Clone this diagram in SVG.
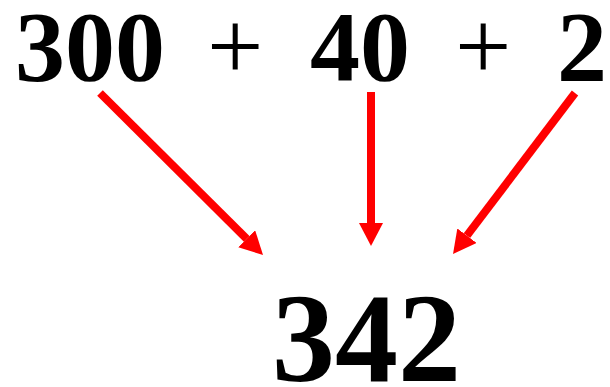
<svg xmlns="http://www.w3.org/2000/svg" width="610" height="387" viewBox="0 0 610 387">
<style>
.t{font-family:"Liberation Serif","Times New Roman",serif;font-weight:bold;fill:#000}
.p{font-family:"Liberation Serif","Times New Roman",serif;fill:#000}
.a{stroke:#ff0000;stroke-width:8;fill:none;marker-end:url(#ah)}
</style>
<defs>
<marker id="ah" markerUnits="userSpaceOnUse" viewBox="0 0 23 24" refX="0" refY="12" markerWidth="23" markerHeight="24" orient="auto">
<path d="M0,0 L23,12 L0,24 Z" fill="#ff0000"/>
</marker>
</defs>
<g id="n300"><text class="t" x="15" y="80" font-size="100">300</text></g>
<g id="plus1"><text class="p" x="207" y="80" font-size="100">+</text></g>
<g id="n40"><text class="t" x="310" y="80" font-size="100">40</text></g>
<g id="plus2"><text class="p" x="455" y="80" font-size="100">+</text></g>
<g id="n2"><text class="t" x="557" y="80" font-size="100">2</text></g>
<g id="n342"><text class="t" x="272" y="381" font-size="126">342</text></g>
<g id="connectors">
<line class="a" x1="100" y1="93" x2="246.7" y2="238.8"/>
<line class="a" x1="371" y1="92" x2="371" y2="223"/>
<line class="a" x1="575" y1="93" x2="466.9" y2="235.7"/>
</g>
</svg>
